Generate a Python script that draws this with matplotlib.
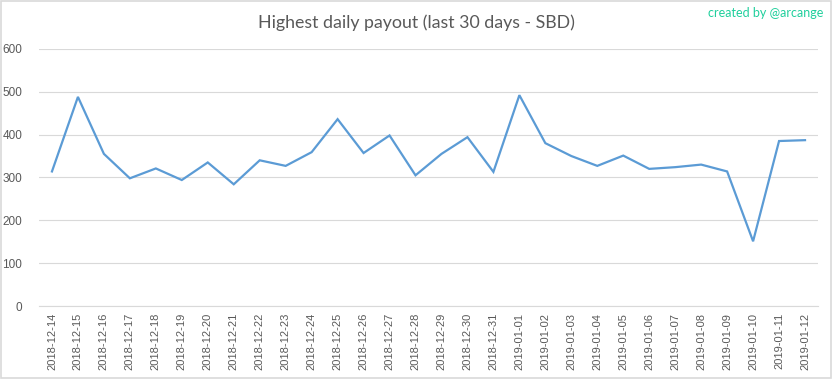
"""Highest daily payout over the last 30 days, Excel-style line chart."""

import matplotlib.pyplot as plt
from matplotlib.patches import Rectangle

dates = [
    "2018-12-14", "2018-12-15", "2018-12-16", "2018-12-17", "2018-12-18",
    "2018-12-19", "2018-12-20", "2018-12-21", "2018-12-22", "2018-12-23",
    "2018-12-24", "2018-12-25", "2018-12-26", "2018-12-27", "2018-12-28",
    "2018-12-29", "2018-12-30", "2018-12-31", "2019-01-01", "2019-01-02",
    "2019-01-03", "2019-01-04", "2019-01-05", "2019-01-06", "2019-01-07",
    "2019-01-08", "2019-01-09", "2019-01-10", "2019-01-11", "2019-01-12",
]
payout = [
    314, 488, 355, 298, 321, 294, 335, 284, 340, 327,
    359, 436, 357, 398, 305, 355, 394, 313, 492, 380,
    350, 327, 351, 320, 324, 330, 314, 151, 385, 387,
]
y_ticks = [0, 100, 200, 300, 400, 500, 600]

TEXT = "#595959"
GRID = "#d9d9d9"
LINE = "#5b9bd5"

plt.rcParams["font.family"] = ["Lato", "DejaVu Sans"]

fig = plt.figure(figsize=(8.33, 3.79), dpi=100)
ax = fig.add_axes([0.0468, 0.1926, 0.9352, 0.6784])

x = range(len(dates))
ax.plot(x, payout, color=LINE, linewidth=1.6, solid_joinstyle="miter")

ax.set_xlim(-0.5, len(dates) - 0.5)
ax.set_ylim(0, 600)
ax.set_yticks(y_ticks)
ax.set_xticks(list(x))
ax.set_xticklabels(dates, rotation=90, fontsize=8, color=TEXT,
                   family=["Liberation Sans"])
ax.tick_params(axis="y", labelsize=8.5, labelcolor=TEXT, length=0, pad=12)
ax.tick_params(axis="x", length=0, pad=5)
for lbl in ax.get_yticklabels():
    lbl.set_family(["Liberation Sans"])

ax.grid(axis="y", color=GRID, linewidth=0.8)
ax.set_axisbelow(True)
for side in ["top", "right", "left"]:
    ax.spines[side].set_visible(False)
ax.spines["bottom"].set_color(GRID)
ax.spines["bottom"].set_linewidth(0.8)

fig.text(0.5, 0.94, "Highest daily payout (last 30 days - SBD)", ha="center",
         va="center", fontsize=12.8, color=TEXT)
fig.text(0.988, 0.965, "created by @arcange", ha="right", va="center",
         fontsize=9, color="#1fcf9c")

fig.patches.append(Rectangle((0.001, 0.002), 0.997, 0.995, transform=fig.transFigure,
                             fill=False, edgecolor="#d9d9d9", linewidth=1.2))

fig.savefig("out.png", dpi=100)
